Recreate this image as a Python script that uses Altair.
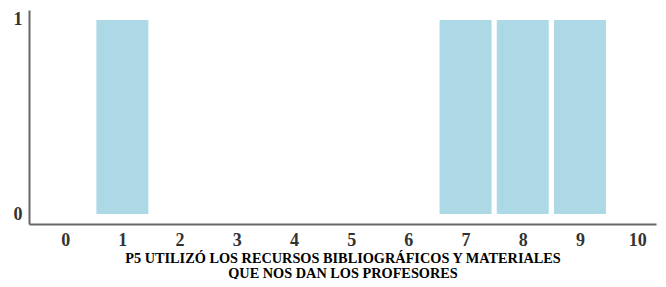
import altair as alt
import pandas as pd

categories = [0, 1, 2, 3, 4, 5, 6, 7, 8, 9, 10]
values = [0, 1, 0, 0, 0, 0, 0, 1, 1, 1, 0]
y_ticks = [0, 1]

df = pd.DataFrame({"cat": categories, "val": values, "base": [0] * len(categories)})

font = "Liberation Serif"
label_color = "#333333"

chart = alt.Chart(df).mark_bar(color="#add8e6", width=52).encode(
    x=alt.X(
        "cat:Q",
        scale=alt.Scale(domain=[-0.545, 10.242], nice=False, zero=False),
        axis=alt.Axis(
            title=["P5 UTILIZÓ LOS RECURSOS BIBLIOGRÁFICOS Y MATERIALES", "QUE NOS DAN LOS PROFESORES"],
            values=categories,
            format="d",
            labelAngle=0,
            ticks=False,
            grid=False,
            labelPadding=7,
            labelFont=font,
            labelFontSize=18,
            labelFontWeight="bold",
            labelColor=label_color,
            titleFont=font,
            titleFontSize=14.3,
            titleFontWeight="bold",
            titleColor="#000000",
            titlePadding=2,
            titleLineHeight=15,
            domainColor="#666666",
            domainWidth=2,
        ),
    ),
    y=alt.Y(
        "val:Q",
        scale=alt.Scale(domain=[-0.0515, 1.0515], nice=False, zero=False),
        axis=alt.Axis(
            title=None,
            values=y_ticks,
            format="d",
            ticks=False,
            grid=False,
            labelPadding=7,
            labelFont=font,
            labelFontSize=18,
            labelFontWeight="bold",
            labelColor=label_color,
            domainColor="#666666",
            domainWidth=2,
        ),
    ),
    y2="base:Q",
).properties(
    width=627,
    height=214,
    autosize=alt.AutoSizeParams(type="none"),
    padding={"left": 21, "top": 2, "right": 2, "bottom": 55},
).configure_view(stroke=None)

chart.save("out.html", embed_options={"renderer": "svg", "actions": False})
